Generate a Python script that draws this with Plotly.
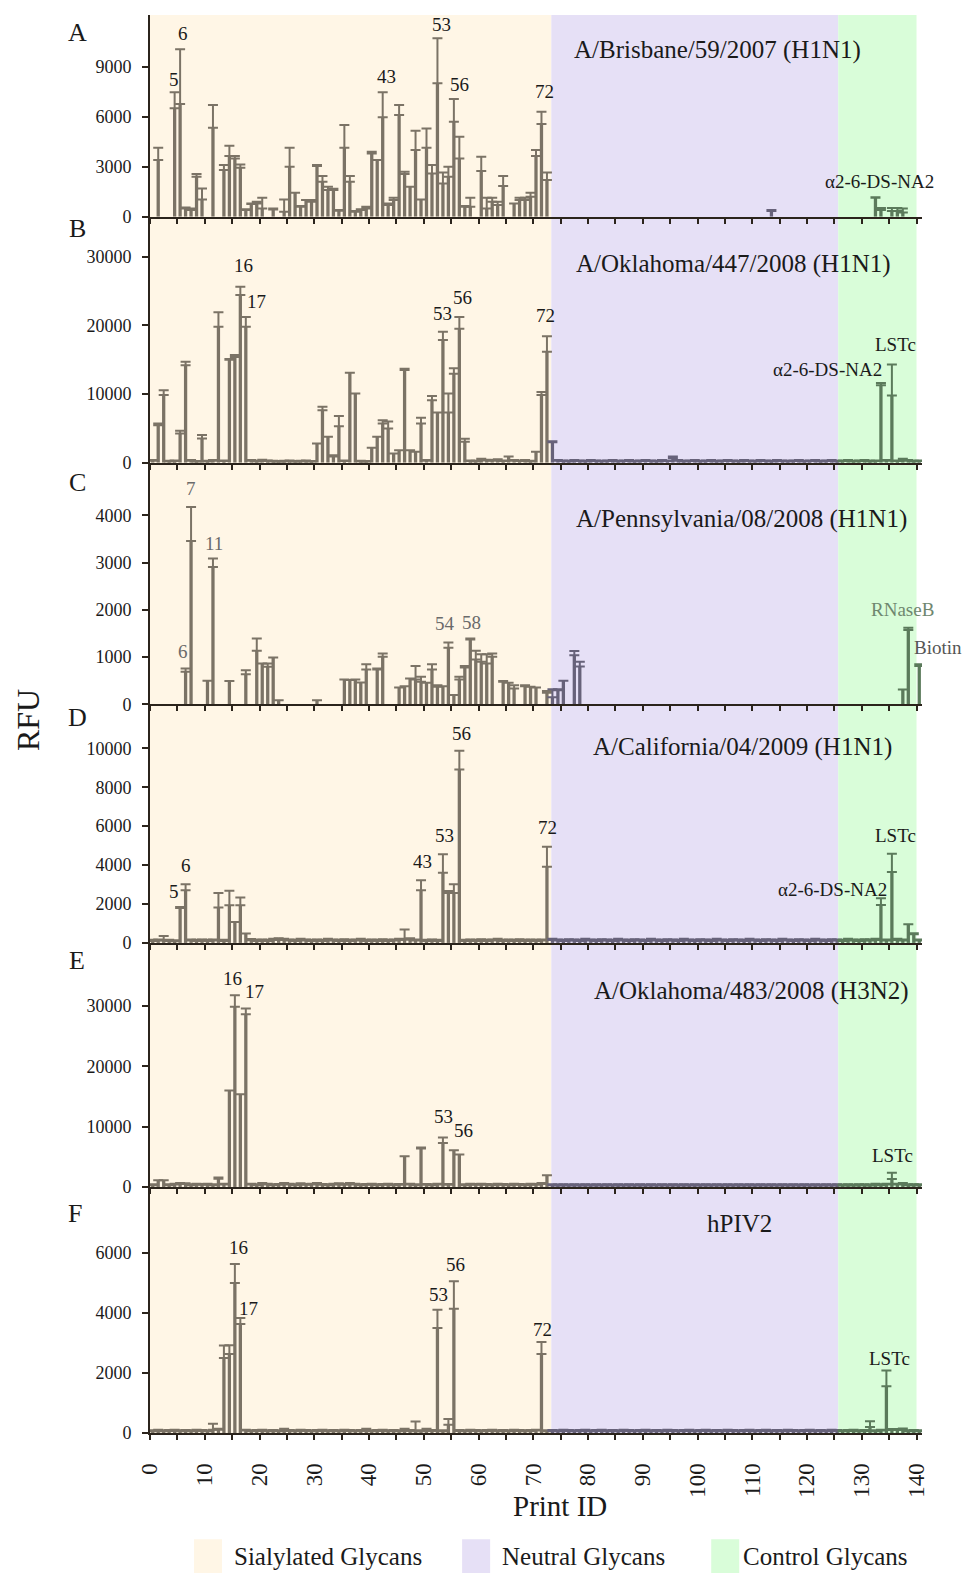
import plotly.graph_objects as go

# ---------------- data (print IDs 1..141) ----------------
print_id = list(range(1, 142))

A_val = [0, 3400, 0, 0, 6500, 6760, 500, 400, 2400, 1040,
         0, 5340, 0, 2800, 3640, 3500, 2940, 400, 760, 800,
         500, 0, 440, 0, 300, 3000, 1440, 600, 1000, 900,
         3040, 2100, 1600, 1600, 360, 4140, 2100, 300, 400, 500,
         3800, 3400, 5960, 700, 1000, 6100, 2560, 1800, 4000, 1040,
         4140, 2600, 8000, 2000, 2400, 5700, 3500, 600, 600, 0,
         2740, 500, 900, 700, 1840, 0, 800, 1000, 1000, 1200,
         3640, 5560, 2200, 0, 0, 0, 0, 0, 0, 0,
         0, 0, 0, 0, 0, 0, 0, 0, 0, 0,
         0, 0, 0, 0, 0, 0, 0, 0, 0, 0,
         0, 0, 0, 0, 0, 0, 0, 0, 0, 0,
         0, 0, 0, 350, 0, 0, 0, 0, 0, 0,
         0, 0, 0, 0, 0, 0, 0, 0, 0, 0,
         0, 0, 1140, 400, 0, 350, 350, 250, 0, 0,
         0]
A_err = [0, 740, 0, 0, 960, 3280, 60, 100, 160, 660,
         0, 1360, 0, 300, 620, 140, 200, 50, 40, 100,
         640, 0, 60, 0, 740, 1140, 0, 50, 0, 100,
         60, 340, 200, 80, 40, 1360, 340, 50, 50, 100,
         100, 0, 1500, 100, 140, 600, 140, 0, 1160, 0,
         1160, 500, 2700, 660, 600, 1360, 1300, 40, 540, 0,
         860, 640, 240, 200, 600, 0, 0, 140, 140, 240,
         360, 740, 460, 0, 0, 0, 0, 0, 0, 0,
         0, 0, 0, 0, 0, 0, 0, 0, 0, 0,
         0, 0, 0, 0, 0, 0, 0, 0, 0, 0,
         0, 0, 0, 0, 0, 0, 0, 0, 0, 0,
         0, 0, 0, 50, 0, 0, 0, 0, 0, 0,
         0, 0, 0, 0, 0, 0, 0, 0, 0, 0,
         0, 0, 30, 120, 0, 170, 170, 250, 0, 0,
         0]

B_val = [300, 5480, 9850, 200, 250, 4270, 14200, 300, 150, 3540,
         200, 300, 19800, 250, 15000, 15400, 24400, 19800, 300, 200,
         350, 250, 200, 150, 200, 250, 150, 200, 250, 150,
         2800, 7660, 3800, 900, 5300, 250, 13100, 10100, 200, 150,
         2200, 3800, 5700, 5000, 1360, 1840, 13500, 1840, 1600, 5700,
         300, 9100, 7300, 17850, 7300, 12950, 19500, 3050, 250, 200,
         500, 350, 300, 400, 250, 900, 300, 250, 300, 200,
         1600, 9850, 16150, 3000, 300, 250, 200, 300, 250, 200,
         300, 250, 200, 250, 300, 200, 250, 300, 200, 250,
         300, 250, 200, 300, 250, 700, 300, 200, 250, 300,
         200, 250, 300, 200, 250, 300, 250, 200, 300, 250,
         200, 300, 250, 200, 300, 250, 200, 250, 300, 200,
         250, 300, 200, 250, 300, 200, 250, 300, 200, 250,
         300, 200, 250, 11300, 300, 9800, 250, 500, 300, 200,
         250]
B_err = [100, 240, 720, 100, 100, 380, 500, 100, 100, 490,
         100, 100, 2100, 100, 100, 300, 1200, 1400, 100, 100,
         100, 100, 100, 100, 100, 100, 100, 100, 100, 100,
         0, 490, 0, 200, 1500, 100, 0, 0, 100, 100,
         0, 0, 500, 1000, 0, 0, 200, 0, 0, 850,
         100, 600, 0, 1200, 2800, 800, 1700, 450, 100, 100,
         100, 100, 100, 100, 100, 0, 100, 100, 100, 100,
         0, 450, 2250, 150, 100, 100, 100, 100, 100, 100,
         100, 100, 100, 100, 100, 100, 100, 100, 100, 100,
         100, 100, 100, 100, 100, 200, 100, 100, 100, 100,
         100, 100, 100, 100, 100, 100, 100, 100, 100, 100,
         100, 100, 100, 100, 100, 100, 100, 100, 100, 100,
         100, 100, 100, 100, 100, 100, 100, 100, 100, 100,
         100, 100, 100, 300, 100, 4500, 100, 100, 100, 100,
         100]

C_val = [0, 0, 0, 0, 0, 0, 690, 3457, 0, 0,
         500, 2907, 0, 0, 493, 0, 0, 640, 0, 1133,
         866, 795, 993, 90, 0, 0, 0, 0, 0, 0,
         90, 0, 0, 0, 0, 528, 514, 528, 465, 740,
         0, 740, 1007, 0, 0, 359, 387, 549, 528, 479,
         458, 740, 373, 387, 1197, 197, 528, 781, 1373, 950,
         901, 866, 1007, 0, 479, 458, 338, 0, 387, 373,
         359, 0, 246, 150, 300, 500, 0, 1040, 800, 0,
         0, 0, 0, 0, 0, 0, 0, 0, 0, 0,
         0, 0, 0, 0, 0, 0, 0, 0, 0, 0,
         0, 0, 0, 0, 0, 0, 0, 0, 0, 0,
         0, 0, 0, 0, 0, 0, 0, 0, 0, 0,
         0, 0, 0, 0, 0, 0, 0, 0, 0, 0,
         0, 0, 0, 0, 0, 0, 0, 317, 1571, 0,
         810]
C_err = [0, 0, 0, 0, 0, 0, 70, 718, 0, 0,
         0, 176, 0, 0, 0, 0, 0, 85, 0, 261,
         0, 71, 0, 0, 0, 0, 0, 0, 0, 0,
         0, 0, 0, 0, 0, 0, 0, 0, 0, 112,
         0, 20, 70, 0, 0, 0, 0, 0, 282, 105,
         0, 112, 35, 0, 112, 0, 56, 29, 21, 183,
         162, 197, 70, 0, 14, 0, 70, 0, 21, 0,
         0, 0, 36, 170, 20, 0, 0, 90, 100, 0,
         0, 0, 0, 0, 0, 0, 0, 0, 0, 0,
         0, 0, 0, 0, 0, 0, 0, 0, 0, 0,
         0, 0, 0, 0, 0, 0, 0, 0, 0, 0,
         0, 0, 0, 0, 0, 0, 0, 0, 0, 0,
         0, 0, 0, 0, 0, 0, 0, 0, 0, 0,
         0, 0, 0, 0, 0, 0, 0, 0, 49, 0,
         42]

D_val = [100, 120, 140, 100, 80, 1800, 2700, 120, 100, 120,
         100, 120, 1817, 100, 1937, 1080, 1937, 480, 137, 100,
         120, 100, 150, 180, 150, 120, 100, 150, 120, 100,
         120, 100, 150, 120, 100, 130, 100, 120, 150, 100,
         120, 100, 130, 100, 120, 150, 170, 180, 120, 2708,
         100, 120, 100, 3600, 2571, 2571, 8913, 100, 120, 100,
         130, 100, 120, 150, 100, 120, 100, 130, 100, 120,
         100, 120, 3908, 150, 120, 100, 130, 120, 100, 150,
         120, 100, 130, 120, 100, 150, 120, 100, 130, 120,
         100, 150, 120, 100, 130, 120, 100, 150, 120, 100,
         130, 120, 100, 150, 120, 100, 130, 120, 100, 150,
         120, 100, 130, 120, 100, 150, 120, 100, 130, 120,
         100, 150, 120, 100, 130, 120, 100, 150, 120, 100,
         130, 120, 150, 1950, 120, 3650, 150, 120, 960, 450,
         120]
D_err = [60, 60, 220, 60, 60, 50, 310, 60, 60, 60,
         60, 60, 750, 60, 740, 0, 400, 0, 60, 60,
         60, 60, 60, 60, 60, 60, 60, 60, 60, 60,
         60, 60, 60, 60, 60, 60, 60, 60, 60, 60,
         60, 60, 60, 60, 60, 60, 520, 60, 60, 510,
         60, 60, 60, 960, 100, 450, 960, 60, 60, 60,
         60, 60, 60, 60, 60, 60, 60, 60, 60, 60,
         60, 60, 1030, 60, 60, 60, 60, 60, 60, 60,
         60, 60, 60, 60, 60, 60, 60, 60, 60, 60,
         60, 60, 60, 60, 60, 60, 60, 60, 60, 60,
         60, 60, 60, 60, 60, 60, 60, 60, 60, 60,
         60, 60, 60, 60, 60, 60, 60, 60, 60, 60,
         60, 60, 60, 60, 60, 60, 60, 60, 60, 60,
         60, 60, 60, 350, 60, 930, 60, 60, 0, 50,
         60]

E_val = [300, 1100, 1100, 300, 400, 500, 600, 300, 400, 350,
         400, 300, 1380, 400, 16000, 29860, 15370, 28650, 400, 300,
         500, 400, 300, 350, 500, 400, 300, 450, 350, 400,
         500, 350, 300, 400, 450, 350, 500, 400, 300, 350,
         400, 300, 350, 400, 300, 350, 5090, 400, 300, 6360,
         350, 300, 400, 7300, 350, 6080, 5360, 300, 400, 350,
         400, 350, 300, 400, 350, 300, 400, 350, 300, 400,
         350, 500, 1935, 300, 250, 300, 250, 300, 250, 300,
         250, 300, 250, 300, 250, 300, 250, 300, 250, 300,
         250, 300, 250, 300, 250, 300, 250, 300, 250, 300,
         250, 300, 250, 300, 250, 300, 250, 300, 250, 300,
         250, 300, 250, 300, 250, 300, 250, 300, 250, 300,
         250, 300, 250, 300, 250, 300, 250, 300, 250, 300,
         300, 250, 400, 300, 400, 1300, 400, 500, 300, 300,
         300]
E_err = [150, 0, 0, 150, 150, 150, 0, 150, 150, 150,
         150, 150, 170, 150, 0, 1940, 0, 950, 150, 150,
         150, 150, 150, 150, 150, 150, 150, 150, 150, 150,
         150, 150, 150, 150, 150, 150, 150, 150, 150, 150,
         150, 150, 150, 150, 150, 150, 0, 150, 150, 170,
         150, 150, 150, 880, 150, 0, 0, 150, 150, 150,
         150, 150, 150, 150, 150, 150, 150, 150, 150, 150,
         150, 150, 0, 150, 150, 150, 150, 150, 150, 150,
         150, 150, 150, 150, 150, 150, 150, 150, 150, 150,
         150, 150, 150, 150, 150, 150, 150, 150, 150, 150,
         150, 150, 150, 150, 150, 150, 150, 150, 150, 150,
         150, 150, 150, 150, 150, 150, 150, 150, 150, 150,
         150, 150, 150, 150, 150, 150, 150, 150, 150, 150,
         150, 150, 150, 150, 150, 1050, 150, 150, 150, 150,
         150]

F_val = [60, 80, 60, 70, 80, 60, 70, 60, 80, 70,
         60, 111, 111, 2495, 2628, 4990, 3626, 80, 60, 70,
         80, 60, 70, 60, 111, 70, 60, 80, 70, 60,
         70, 80, 60, 70, 60, 80, 70, 60, 70, 111,
         60, 70, 80, 60, 70, 60, 111, 70, 55, 60,
         111, 70, 3493, 60, 277, 4136, 70, 60, 80, 70,
         60, 70, 80, 60, 70, 60, 80, 70, 60, 70,
         80, 2628, 60, 70, 60, 80, 70, 60, 70, 80,
         60, 70, 80, 60, 70, 60, 80, 70, 60, 70,
         80, 60, 70, 60, 80, 70, 60, 70, 80, 60,
         70, 80, 60, 70, 60, 80, 70, 60, 70, 80,
         60, 70, 80, 60, 70, 60, 80, 70, 60, 70,
         80, 60, 70, 60, 80, 70, 60, 70, 80, 60,
         70, 200, 60, 80, 1553, 100, 100, 120, 60, 70,
         60]
F_err = [30, 30, 30, 30, 30, 30, 30, 30, 30, 30,
         30, 200, 30, 420, 290, 630, 200, 30, 30, 30,
         30, 30, 30, 30, 30, 30, 30, 30, 30, 30,
         30, 30, 30, 30, 30, 30, 30, 30, 30, 30,
         30, 30, 30, 30, 30, 30, 30, 30, 330, 30,
         30, 30, 607, 30, 190, 910, 30, 30, 30, 30,
         30, 30, 30, 30, 30, 30, 30, 30, 30, 30,
         30, 400, 30, 30, 30, 30, 30, 30, 30, 30,
         30, 30, 30, 30, 30, 30, 30, 30, 30, 30,
         30, 30, 30, 30, 30, 30, 30, 30, 30, 30,
         30, 30, 30, 30, 30, 30, 30, 30, 30, 30,
         30, 30, 30, 30, 30, 30, 30, 30, 30, 30,
         30, 30, 30, 30, 30, 30, 30, 30, 30, 30,
         30, 190, 30, 30, 530, 30, 30, 30, 30, 30,
         30]

panel_letters = ["A", "B", "C", "D", "E", "F"]
panel_titles = ["A/Brisbane/59/2007 (H1N1)", "A/Oklahoma/447/2008 (H1N1)",
                "A/Pennsylvania/08/2008 (H1N1)", "A/California/04/2009 (H1N1)",
                "A/Oklahoma/483/2008 (H3N2)", "hPIV2"]
y_tick_step = [3000, 10000, 1000, 2000, 10000, 2000]
y_tick_max = [9000, 30000, 4000, 10000, 30000, 6000]

A_labels = [("5", 4.3, 8250), ("6", 5.95, 11016), ("43", 43.2, 8430), ("53", 53.2, 11556),
            ("56", 56.5, 7944), ("72", 72.1, 7524), ("α2-6-DS-NA2", 133.2, 2100)]
B_labels = [("16", 17.1, 28670), ("17", 19.5, 23410), ("53", 53.4, 21650), ("56", 57.1, 24000),
            ("72", 72.3, 21500), ("LSTc", 136.1, 17280), ("α2-6-DS-NA2", 123.8, 13630)]
C_labels = [("7", 7.4, 4562), ("11", 11.6, 3397), ("6", 6.1, 1127), ("54", 53.8, 1721),
            ("58", 58.7, 1742), ("RNaseB", 137.5, 1998)]
C_outside_label = ("Biotin", 937.8, 647.0)   # sits right of the plot area (pixel position)
D_labels = [("5", 4.3, 2622), ("6", 6.5, 3964), ("43", 49.7, 4169), ("53", 53.8, 5511),
            ("56", 56.9, 10770), ("72", 72.6, 5922), ("LSTc", 136.2, 5511), ("α2-6-DS-NA2", 124.7, 2725)]
E_labels = [("16", 15.1, 34620), ("17", 19.1, 32450), ("53", 53.6, 11670), ("56", 57.3, 9334),
            ("LSTc", 135.7, 5173)]
F_labels = [("16", 16.2, 6157), ("17", 18.0, 4150), ("53", 52.7, 4619), ("56", 55.8, 5621),
            ("72", 71.6, 3451), ("LSTc", 135.0, 2483)]

x_tick_labels = ["0", "10", "20", "30", "40", "50", "60", "70", "80", "90", "100", "110", "120", "130", "140"]
region_names = ["Sialylated Glycans", "Neutral Glycans", "Control Glycans"]

# ---------------- styling / geometry ----------------
for lst in (A_val, A_err, B_val, B_err, C_val, C_err, D_val, D_err, E_val, E_err, F_val, F_err):
    assert len(lst) == 141, len(lst)

FONT = "Liberation Serif"
AXIS = "#2b241c"
BG = ["#FFF6E6", "#E6E0F6", "#D9FDD9"]
BAR = ["#7b7366", "#67627a", "#5b7a5b"]
REGION_ID = [(1, 73), (74, 126), (127, 141)]
REGION_X = [(0, 73.3), (73.3, 125.7), (125.7, 140.0)]

W, H = 962, 1573
PL, PR, PT, PB = 150.0, 921.7, 15.0, 1432.7
edges = [15.0, 216.7, 462.7, 704.3, 942.7, 1186.7, 1432.7]
y_ranges = [12100, 35800, 5108, 12257, 40460, 8186]


def px_x(px):
    return (px - PL) / (PR - PL)


def px_y(py):
    return (PB - py) / (PB - PT)


panels = [(A_val, A_err), (B_val, B_err), (C_val, C_err), (D_val, D_err), (E_val, E_err), (F_val, F_err)]
labels = [A_labels, B_labels, C_labels, D_labels, E_labels, F_labels]

fig = go.Figure()
layout = {}
annotations = []
shapes = []

for k, (vals, errs) in enumerate(panels):
    sx = "" if k == 0 else str(k + 1)
    for r, (lo, hi) in enumerate(REGION_ID):
        ids = [i for i in print_id if lo <= i <= hi and (vals[i - 1] > 0 or errs[i - 1] > 0)]
        if not ids:
            continue
        fig.add_trace(go.Bar(
            x=[i - 0.5 for i in ids],
            y=[vals[i - 1] for i in ids],
            width=0.6,
            marker=dict(color=BAR[r], line=dict(width=0)),
            error_y=dict(type="data", symmetric=False,
                         array=[errs[i - 1] for i in ids],
                         arrayminus=[0 for _ in ids],
                         color=BAR[r], thickness=2, width=5),
            xaxis="x" + sx, yaxis="y" + sx, showlegend=False,
            hovertemplate="Print ID %{customdata}<br>RFU %{y}<extra></extra>",
            customdata=ids,
        ))
    last = (k == 5)
    layout["xaxis" + sx] = dict(
        domain=[0, 1], anchor="y" + sx, range=[0, 141],
        showline=True, linecolor=AXIS, linewidth=2,
        ticks="outside", ticklen=5, tickwidth=1.5, tickcolor=AXIS,
        tickvals=[10 * j for j in range(len(x_tick_labels))],
        ticktext=x_tick_labels,
        minor=dict(dtick=5, tick0=0, ticks="outside", ticklen=5, tickwidth=1.5, tickcolor=AXIS),
        showticklabels=last, tickangle=-90, ticklabelstandoff=14,
        tickfont=dict(family=FONT, size=23, color="#1a1a1a"),
        showgrid=False, zeroline=False, fixedrange=True,
    )
    if k > 0:
        layout["xaxis" + sx]["matches"] = "x"
    layout["yaxis" + sx] = dict(
        domain=[px_y(edges[k + 1]), px_y(edges[k])], anchor="x" + sx,
        range=[0, y_ranges[k]],
        tickvals=list(range(0, y_tick_max[k] + 1, y_tick_step[k])),
        tickformat="d",
        showline=True, linecolor=AXIS, linewidth=2,
        ticks="outside", ticklen=6, tickwidth=1.5, tickcolor=AXIS,
        ticklabelstandoff=7,
        tickfont=dict(family=FONT, size=18, color="#1a1a1a"),
        showgrid=False, zeroline=False, fixedrange=True,
    )
    # panel title
    if k < 5:
        tx = [77.1, 77.4, 77.4, 80.5, 80.7][k]
        ty_px = [50, 263.8, 518.6, 747.2, 991.0][k]
        annotations.append(dict(text=panel_titles[k], x=px_x(PL + tx * (PR - PL) / 141), y=px_y(ty_px),
                                xref="paper", yref="paper", xanchor="left", yanchor="middle",
                                showarrow=False, font=dict(family=FONT, size=25, color="#1a1a1a")))
    else:
        annotations.append(dict(text=panel_titles[k], x=107.7, y=6955, xref="x6", yref="y6",
                                xanchor="center", yanchor="middle", showarrow=False,
                                font=dict(family=FONT, size=25, color="#1a1a1a")))
    # peak labels
    for (txt, lx, ly) in labels[k]:
        col = "#1a1a1a"
        if k == 2:
            col = "#6a6a6a"
            if txt == "RNaseB":
                col = "#6f876f"
        annotations.append(dict(text=txt, x=lx, y=ly, xref="x" + sx, yref="y" + sx,
                                xanchor="center", yanchor="middle", showarrow=False,
                                font=dict(family=FONT, size=19, color=col)))
    # panel letter
    lp = [(77.2, 32.1), (77.2, 228.7), (77.2, 482.5), (77.2, 717.1), (77.2, 960.0), (75.2, 1213.6)][k]
    annotations.append(dict(text=panel_letters[k], x=px_x(lp[0]), y=px_y(lp[1]), xref="paper", yref="paper",
                            xanchor="center", yanchor="middle", showarrow=False,
                            font=dict(family=FONT, size=26, color="#1a1a1a")))

annotations.append(dict(text=C_outside_label[0], x=px_x(C_outside_label[1]), y=px_y(C_outside_label[2]),
                        xref="paper", yref="paper", xanchor="center", yanchor="middle", showarrow=False,
                        font=dict(family=FONT, size=19, color="#555555")))

# background bands
for r, (x0, x1) in enumerate(REGION_X):
    shapes.append(dict(type="rect", xref="x", yref="paper", x0=x0, x1=x1, y0=0, y1=1,
                       fillcolor=BG[r], line=dict(width=0), layer="below"))

# legend (drawn)
leg_sq = [194, 462, 711]
leg_tx = [232, 500, 741]
for r in range(3):
    shapes.append(dict(type="rect", xref="paper", yref="paper",
                       x0=px_x(leg_sq[r]), x1=px_x(leg_sq[r] + 28), y0=px_y(1575), y1=px_y(1539),
                       fillcolor=BG[r], line=dict(width=0)))
    annotations.append(dict(text=region_names[r], x=px_x(leg_tx[r]), y=px_y(1556), xref="paper", yref="paper",
                            xanchor="left", yanchor="middle", showarrow=False,
                            font=dict(family=FONT, size=25, color="#1a1a1a")))

# axis titles
annotations.append(dict(text="RFU", x=px_x(28), y=px_y(720), xref="paper", yref="paper",
                        textangle=-90, xanchor="center", yanchor="middle", showarrow=False,
                        font=dict(family=FONT, size=32, color="#1a1a1a")))
annotations.append(dict(text="Print ID", x=px_x(560), y=px_y(1506), xref="paper", yref="paper",
                        xanchor="center", yanchor="middle", showarrow=False,
                        font=dict(family=FONT, size=29, color="#1a1a1a")))

fig.update_layout(
    width=W, height=H,
    margin=dict(l=PL, r=W - PR, t=PT, b=H - PB, autoexpand=False),
    paper_bgcolor="white", plot_bgcolor="white",
    barmode="overlay",
    font=dict(family=FONT, color="#1a1a1a"),
    annotations=annotations, shapes=shapes,
    **layout,
)

fig.write_html("out.html", config={"displayModeBar": False},
               post_script="document.body.style.margin='0px';document.body.style.overflow='hidden';")
